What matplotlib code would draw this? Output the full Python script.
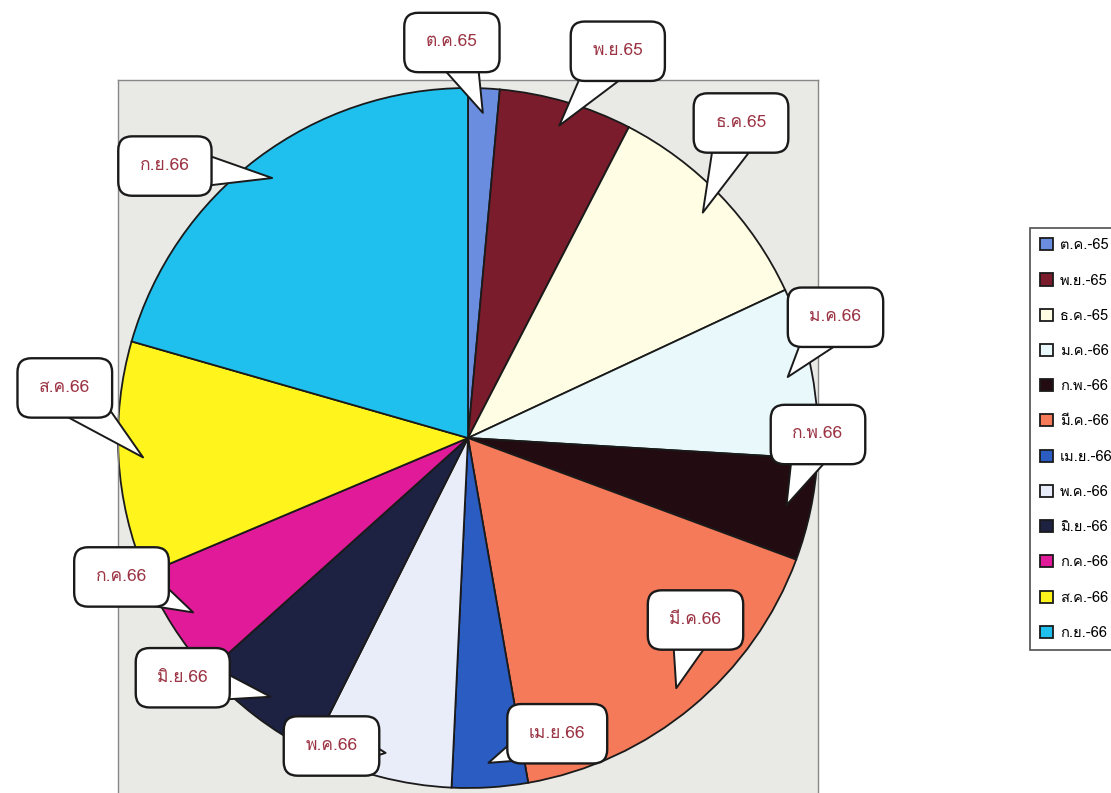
"""Monthly pie chart with callout labels (Thai fiscal year 65-66)"""
import numpy as np
import matplotlib
matplotlib.use("Agg")
import matplotlib.pyplot as plt
from matplotlib import font_manager
from matplotlib.ft2font import FT2Font

# data (share of each month, percent)
months = ["ต.ค.65", "พ.ย.65", "ธ.ค.65", "ม.ค.66", "ก.พ.66", "มี.ค.66",
          "เม.ย.66", "พ.ค.66", "มิ.ย.66", "ก.ค.66", "ส.ค.66", "ก.ย.66"]
legend_labels = ["ต.ค.-65", "พ.ย.-65", "ธ.ค.-65", "ม.ค.-66", "ก.พ.-66",
                 "มี.ค.-66", "เม.ย.-66", "พ.ค.-66", "มิ.ย.-66", "ก.ค.-66",
                 "ส.ค.-66", "ก.ย.-66"]
values = [1.45, 6.15, 10.45, 7.9, 4.7, 16.6, 3.5, 6.65, 5.95, 5.3, 10.8, 20.55]
colors = ["#6a8de0", "#7b1c2c", "#fffde4", "#e9f8fb", "#220c12", "#f57a5a",
          "#2b5cc2", "#e9edf9", "#1d2142", "#e01a98", "#fff41c", "#1fc0ee"]

# callout box centres (data units, pie radius = 1)
box_pos = [(-0.046, 1.13), (0.428, 1.105), (0.78, 0.9), (1.05, 0.345),
           (1.0, 0.01), (0.65, -0.52), (0.255, -0.845), (-0.39, -0.88),
           (-0.815, -0.685), (-0.99, -0.397), (-1.152, 0.143), (-0.866, 0.777)]

PREFERRED = ["Waree", "Loma", "Garuda", "Noto Sans Thai", "Noto Sans Thai UI",
             "Umpush", "Sawasdee", "Kinnari", "Norasi", "Laksaman", "Purisa"]


# find an installed proportional font that has Thai glyphs
def find_thai_font():
    """Return a font family that can draw Thai, or None"""
    found = []
    for path in font_manager.findSystemFonts():
        try:
            cmap = FT2Font(path).get_charmap()
        except Exception:
            continue
        if 0x0E01 in cmap and 0x0E35 in cmap:
            name = font_manager.FontProperties(fname=path).get_name()
            if any(s in name for s in ("Mono", "Typo", "Typist", "Typewriter")):
                continue
            found.append(name)
    for name in PREFERRED:
        if name in found:
            return name
    return found[0] if found else None


thai = find_thai_font()
families = [thai, "DejaVu Sans"] if thai else ["DejaVu Sans"]
plt.rcParams["font.family"] = families

W, H = 1111, 793
fig = plt.figure(figsize=(W / 100, H / 100), dpi=100)
fig.patch.set_facecolor("white")

# plot area: 700 px wide, centre of pie at (468, 438) px
left, top, width, height = 118, 80, 700, 720
ax = fig.add_axes([left / W, 1 - (top + height) / H, width / W, height / H])
ax.set_facecolor("#e9e9e6")

wedges, _ = ax.pie(values, colors=colors, startangle=90, counterclock=False,
                   radius=1.0, frame=True,
                   wedgeprops=dict(edgecolor="#1a1a1a", linewidth=1.3))
ax.set_aspect("auto")
ax.set_xlim(-1.0, 1.0)
ax.set_ylim(-(top + height - 438) / 350, (438 - top) / 350)
ax.set_xticks([])
ax.set_yticks([])
for sp in ax.spines.values():
    sp.set_edgecolor("#888888")
    sp.set_linewidth(1.0)

# callouts pointing at the middle of each slice
for w, lab, pos in zip(wedges, months, box_pos):
    mid = np.deg2rad((w.theta1 + w.theta2) / 2)
    tip = (0.93 * np.cos(mid), 0.93 * np.sin(mid))
    ax.annotate(lab, xy=tip, xytext=pos, ha="center", va="center",
                fontsize=12.5, color="#9b3444", annotation_clip=False,
                bbox=dict(boxstyle="round,pad=1.25,rounding_size=0.8",
                          fc="white", ec="#1a1a1a", lw=1.7),
                arrowprops=dict(arrowstyle="wedge,tail_width=1.8,shrink_factor=0.5",
                                fc="white", ec="#1a1a1a", lw=1.4,
                                mutation_scale=20, patchA=None,
                                shrinkA=0, shrinkB=0))

leg = fig.legend(wedges, legend_labels, loc="upper left",
                 bbox_to_anchor=(1030 / W, 1 - 228 / H), borderaxespad=0,
                 fontsize=10.5, frameon=True, fancybox=False,
                 handlelength=0.9, handleheight=0.9, handletextpad=0.45,
                 labelspacing=1.45, borderpad=0.7)
leg.get_frame().set_edgecolor("#222222")
leg.get_frame().set_linewidth(1.2)

fig.savefig("out.png", dpi=100)
